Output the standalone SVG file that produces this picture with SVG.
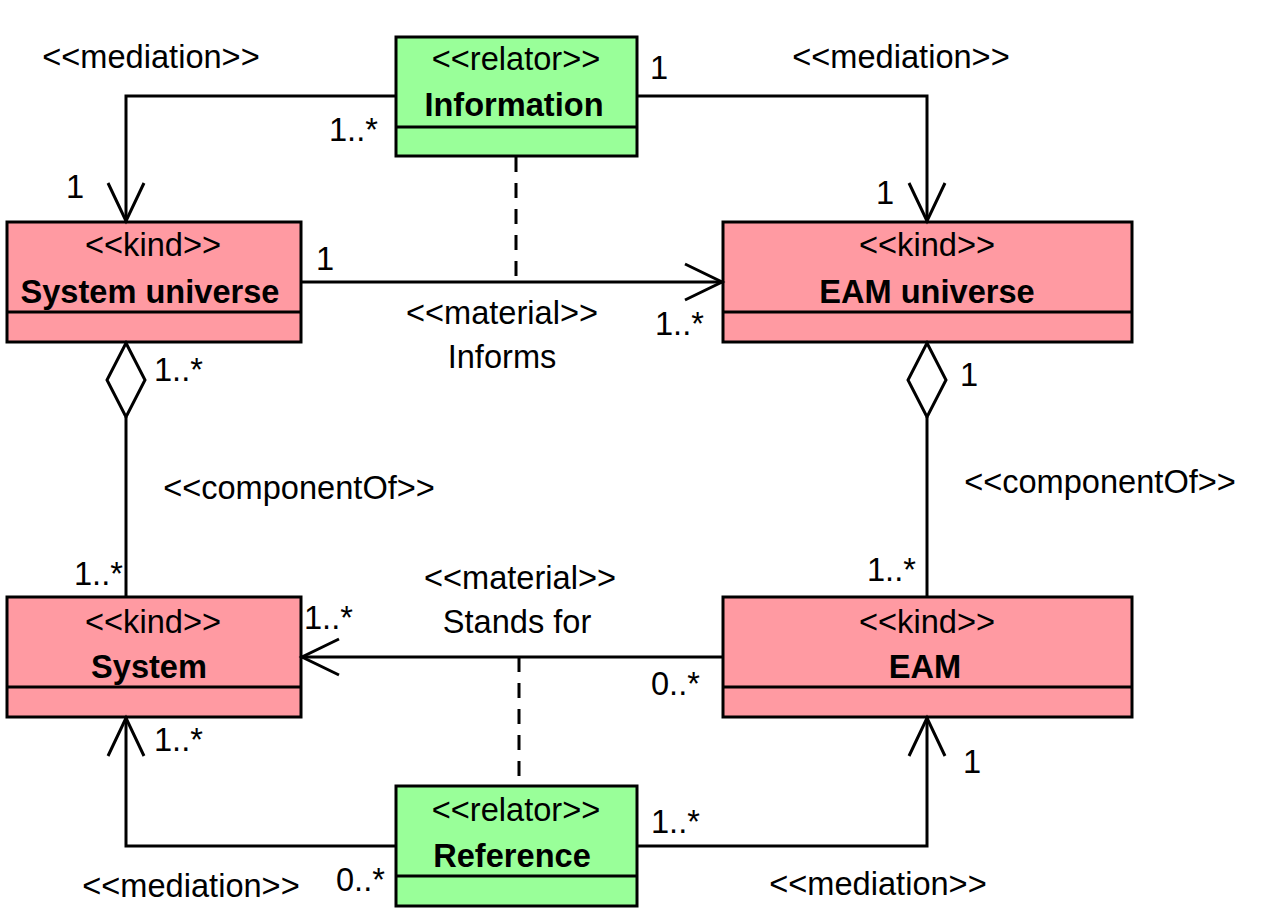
<svg xmlns="http://www.w3.org/2000/svg" width="1281" height="918" viewBox="0 0 1281 918">
<style>
text{font-family:"Liberation Sans",Arial,sans-serif;font-size:32.6px;fill:#000}
.b{font-weight:bold}
.m{text-anchor:middle}
.kind{fill:#FF9AA2;stroke:#000;stroke-width:3}
.rel{fill:#99FF99;stroke:#000;stroke-width:3}
.ln{fill:none;stroke:#000;stroke-width:3}
.ds{fill:none;stroke:#000;stroke-width:3;stroke-dasharray:15 11}
</style>
<rect width="1281" height="918" fill="#fff"/>
<g id="information">
<rect class="rel" x="396" y="37" width="241" height="119"/>
<line class="ln" x1="396" y1="127" x2="637" y2="127"/>
<text class="m" x="516" y="70">&lt;&lt;relator&gt;&gt;</text>
<text class="m b" x="514" y="116">Information</text>
</g>
<g id="system-universe">
<rect class="kind" x="7" y="222" width="294" height="120"/>
<line class="ln" x1="7" y1="312" x2="301" y2="312"/>
<text class="m" x="153" y="256">&lt;&lt;kind&gt;&gt;</text>
<text class="m b" x="150" y="303">System universe</text>
</g>
<g id="eam-universe">
<rect class="kind" x="723" y="222" width="409" height="120"/>
<line class="ln" x1="723" y1="312" x2="1132" y2="312"/>
<text class="m" x="927" y="256">&lt;&lt;kind&gt;&gt;</text>
<text class="m b" x="927" y="303">EAM universe</text>
</g>
<g id="system">
<rect class="kind" x="7" y="597" width="294" height="120"/>
<line class="ln" x1="7" y1="687" x2="301" y2="687"/>
<text class="m" x="153" y="633">&lt;&lt;kind&gt;&gt;</text>
<text class="m b" x="149" y="678">System</text>
</g>
<g id="eam">
<rect class="kind" x="723" y="597" width="409" height="120"/>
<line class="ln" x1="723" y1="687" x2="1132" y2="687"/>
<text class="m" x="927" y="633">&lt;&lt;kind&gt;&gt;</text>
<text class="m b" x="925" y="678">EAM</text>
</g>
<g id="reference">
<rect class="rel" x="396" y="786" width="241" height="120"/>
<line class="ln" x1="396" y1="876" x2="637" y2="876"/>
<text class="m" x="516" y="821">&lt;&lt;relator&gt;&gt;</text>
<text class="m b" x="512" y="867">Reference</text>
</g>
<g id="connectors">
<polyline class="ln" points="396,96 126,96 126,222"/>
<polyline class="ln" points="108,183 126,221 144,183"/>
<polyline class="ln" points="637,96 927,96 927,222"/>
<polyline class="ln" points="909,183 927,221 945,183"/>
<line class="ln" x1="301" y1="282" x2="722" y2="282"/>
<polyline class="ln" points="685,264 722,282 685,300"/>
<line class="ds" x1="516" y1="157" x2="516" y2="282"/>
<polygon class="ln" points="126,343 145,380 126,417 107,380"/>
<line class="ln" x1="126" y1="417" x2="126" y2="597"/>
<polygon class="ln" points="927,343 946,380 927,417 908,380"/>
<line class="ln" x1="927" y1="417" x2="927" y2="597"/>
<line class="ln" x1="723" y1="657" x2="302" y2="657"/>
<polyline class="ln" points="339,639 302,657 339,675"/>
<line class="ds" x1="519" y1="657" x2="519" y2="786"/>
<polyline class="ln" points="396,846 126,846 126,718"/>
<polyline class="ln" points="108,756 126,718 144,756"/>
<polyline class="ln" points="637,846 927,846 927,718"/>
<polyline class="ln" points="909,756 927,718 945,756"/>
<text class="m" x="151" y="68">&lt;&lt;mediation&gt;&gt;</text>
<text x="329" y="141">1..*</text>
<text x="66" y="198">1</text>
<text x="650" y="79">1</text>
<text class="m" x="901" y="68">&lt;&lt;mediation&gt;&gt;</text>
<text x="876" y="204">1</text>
<text x="316" y="270">1</text>
<text class="m" x="502" y="324">&lt;&lt;material&gt;&gt;</text>
<text class="m" x="502" y="368">Informs</text>
<text x="655" y="335">1..*</text>
<text x="154" y="381">1..*</text>
<text x="960" y="386">1</text>
<text class="m" x="299" y="499">&lt;&lt;componentOf&gt;&gt;</text>
<text class="m" x="1100" y="493">&lt;&lt;componentOf&gt;&gt;</text>
<text x="74" y="585">1..*</text>
<text x="867" y="581">1..*</text>
<text class="m" x="520" y="589">&lt;&lt;material&gt;&gt;</text>
<text class="m" x="517" y="633">Stands for</text>
<text x="304" y="629">1..*</text>
<text x="651" y="695">0..*</text>
<text x="154" y="751">1..*</text>
<text x="963" y="773">1</text>
<text x="651" y="833">1..*</text>
<text x="336" y="891">0..*</text>
<text class="m" x="191" y="897">&lt;&lt;mediation&gt;&gt;</text>
<text class="m" x="878" y="895">&lt;&lt;mediation&gt;&gt;</text>
</g>
</svg>
